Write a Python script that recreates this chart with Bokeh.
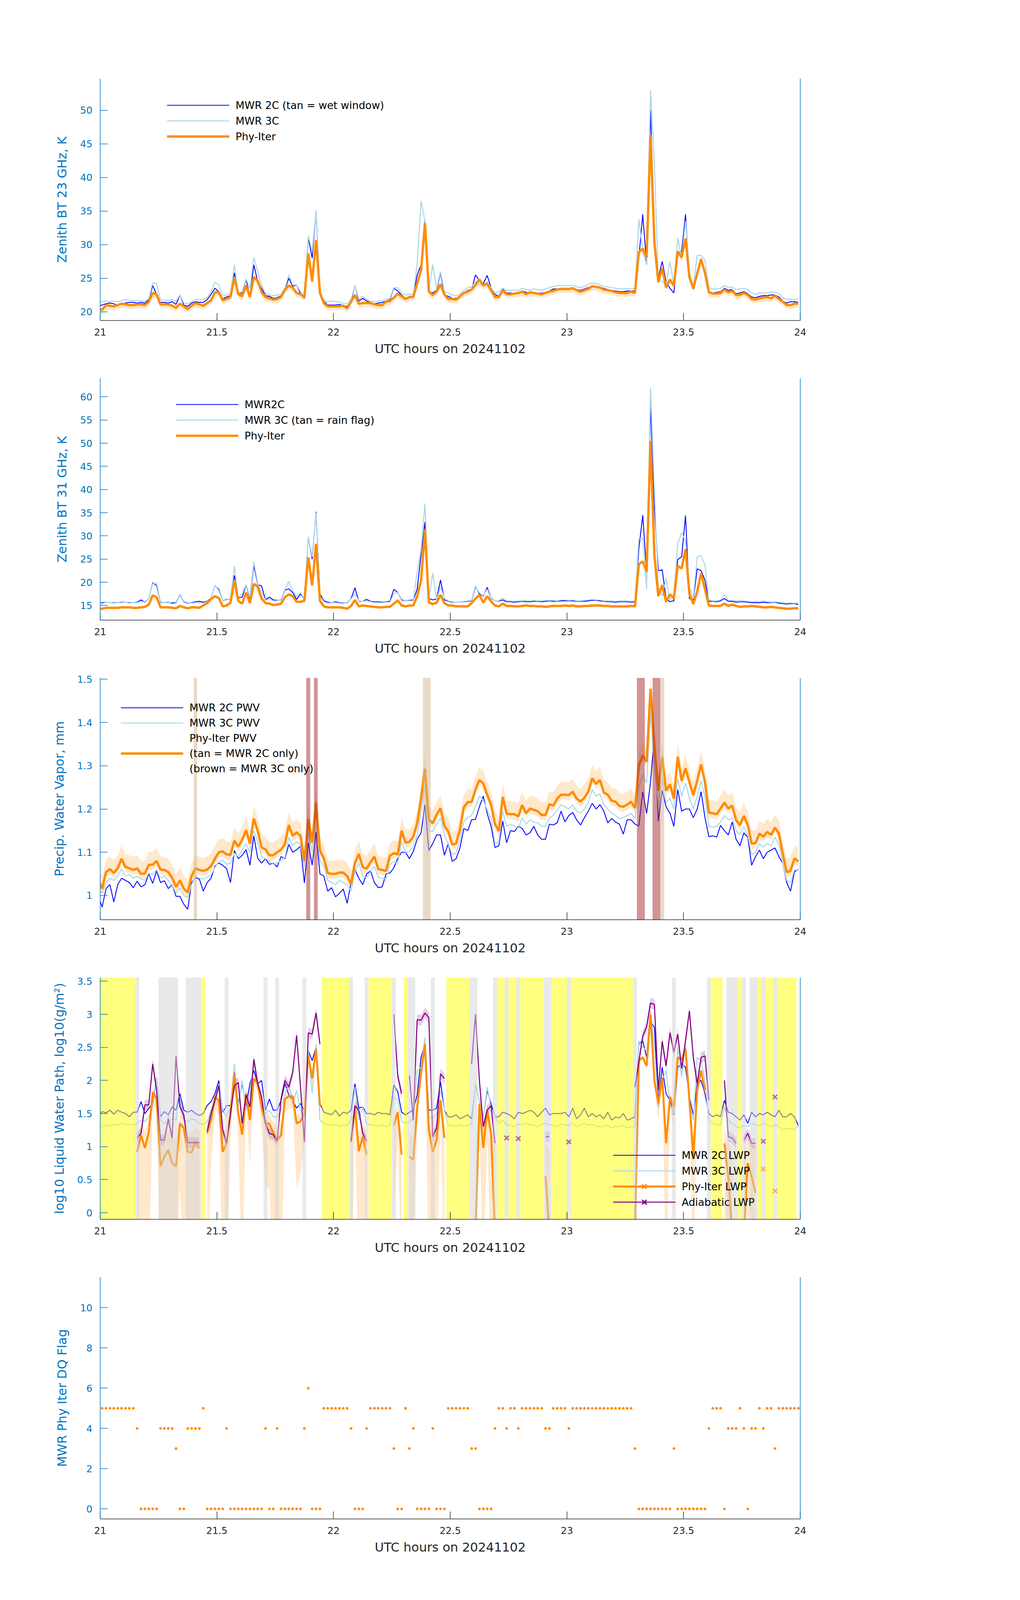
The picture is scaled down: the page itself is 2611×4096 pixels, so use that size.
import numpy as np
from bokeh.plotting import figure
from bokeh.layouts import column
from bokeh.models import (Range1d, FixedTicker, NumeralTickFormatter, LinearAxis,
                          Legend, LegendItem)
from bokeh.embed import file_html
from bokeh.resources import INLINE

nan = float("nan")

# ---------------- time axis (1-minute samples, centred on the half minute) ----------------
N = 181
MINUTE_INDEX = np.arange(N)
T_HOURS = 21.0 + (MINUTE_INDEX - 0.5) / 60.0

X_TICKS = [21, 21.5, 22, 22.5, 23, 23.5, 24]
X_LABEL = "UTC hours on 20241102"

# ---------------- panel 1 : 23 GHz brightness temperature ----------------
BT23_TICKS = [20, 25, 30, 35, 40, 45, 50]
BT23_MWR2C = [
    20.9, 21.0, 21.2, 21.3, 21.2, 20.9, 21.2, 21.3, 21.4, 21.4,
    21.3, 21.4, 21.3, 21.8, 23.9, 22.6, 21.4, 21.4, 21.3, 21.5,
    21.1, 22.5, 21.0, 20.8, 21.3, 21.5, 21.4, 21.4, 21.8, 22.6,
    23.5, 23.0, 21.9, 22.2, 22.4, 25.8, 22.6, 22.8, 24.8, 22.3,
    27.0, 24.5, 23.5, 22.4, 22.3, 22.0, 22.1, 22.4, 23.3, 25.0,
    23.8, 24.0, 22.7, 22.0, 31.0, 28.0, 35.0, 23.0, 21.6, 21.0,
    21.0, 21.0, 21.1, 20.9, 20.8, 21.6, 23.9, 21.6, 22.0, 21.6,
    21.4, 21.2, 21.3, 21.4, 21.6, 21.8, 23.5, 23.1, 22.5, 22.0,
    22.2, 22.3, 25.5, 27.0, 33.7, 23.0, 22.8, 23.2, 25.8, 22.5,
    22.3, 22.0, 22.0, 22.2, 22.8, 23.2, 23.3, 25.5, 24.6, 24.2,
    25.4, 23.6, 22.6, 22.3, 23.4, 22.8, 22.8, 22.7, 22.8, 23.1,
    22.9, 22.8, 22.9, 22.8, 22.8, 22.9, 23.1, 23.4, 23.4, 23.5,
    23.5, 23.4, 23.5, 23.3, 23.2, 23.4, 23.6, 23.8, 23.8, 23.6,
    23.5, 23.3, 23.2, 23.1, 23.0, 23.0, 23.1, 23.1, 23.1, 28.0,
    34.5, 27.0, 50.0, 31.0, 25.0, 27.5, 24.5, 23.5, 22.8, 28.5,
    29.0, 34.5, 25.0, 23.4, 25.5, 27.9, 25.8, 23.0, 22.8, 22.9,
    23.0, 23.5, 23.2, 23.3, 22.7, 22.8, 23.0, 22.7, 22.2, 22.1,
    22.3, 22.4, 22.4, 22.5, 22.5, 22.2, 21.6, 21.3, 21.5, 21.5,
    21.4]
BT23_MWR3C = [
    21.3, 21.5, 21.6, 21.5, 21.6, 21.5, 21.7, 21.8, 21.7, 21.6,
    21.7, 21.6, 21.6, 22.0, 24.3, 24.2, 21.8, 21.7, 21.7, 21.8,
    21.6, 22.5, 21.3, 21.2, 21.5, 21.8, 21.8, 21.8, 22.1, 23.0,
    24.4, 24.0, 22.4, 22.5, 22.7, 27.0, 22.9, 23.0, 24.9, 23.5,
    28.1, 26.0, 23.9, 22.8, 22.5, 22.4, 22.5, 22.6, 23.5, 25.5,
    24.0, 24.0, 23.0, 22.2, 31.3, 29.0, 35.0, 23.0, 21.8, 21.5,
    21.6, 21.5, 21.5, 21.2, 21.2, 21.9, 23.9, 21.9, 22.3, 21.8,
    21.6, 21.5, 21.6, 21.7, 21.9, 22.0, 23.6, 23.6, 22.8, 22.5,
    22.6, 22.6, 27.1, 36.5, 33.5, 23.2, 27.0, 23.5, 26.0, 23.0,
    22.8, 22.5, 22.4, 22.6, 23.2, 23.6, 23.7, 24.5, 24.0, 24.0,
    24.5, 23.6, 22.8, 23.0, 23.5, 23.2, 23.2, 23.2, 23.2, 23.5,
    23.3, 23.2, 23.4, 23.3, 23.2, 23.4, 23.6, 23.8, 23.9, 23.9,
    23.9, 23.9, 23.9, 23.7, 23.6, 23.8, 24.1, 24.3, 24.2, 24.0,
    23.8, 23.7, 23.6, 23.5, 23.4, 23.4, 23.5, 23.4, 23.5, 33.8,
    29.0, 27.0, 53.0, 42.0, 25.0, 24.5, 24.0, 27.5, 24.0, 31.0,
    28.0, 33.5, 26.0, 23.8, 28.4, 28.4, 27.7, 23.6, 23.4, 23.4,
    23.5, 23.9, 23.6, 23.7, 23.3, 23.4, 23.5, 23.3, 22.8, 22.6,
    22.8, 22.8, 22.8, 23.0, 22.9, 22.7, 22.1, 21.8, 21.9, 21.8,
    21.9]
BT23_PHY = [
    20.4, 20.3, 21.0, 20.9, 20.8, 21.0, 21.2, 21.1, 21.0, 21.0,
    21.1, 21.1, 21.0, 21.5, 22.8, 22.6, 21.1, 21.1, 21.1, 20.9,
    20.6, 21.2, 20.8, 20.4, 20.9, 21.3, 21.1, 20.9, 21.3, 21.7,
    22.9, 22.9, 21.7, 21.9, 22.2, 25.1, 22.6, 22.3, 23.9, 22.2,
    25.2, 24.6, 22.9, 22.2, 22.0, 21.8, 21.9, 22.2, 23.3, 23.9,
    23.6, 22.8, 22.6, 22.2, 28.7, 24.5, 30.7, 22.8, 21.3, 20.8,
    20.8, 20.8, 20.8, 20.9, 20.5, 21.5, 22.5, 21.2, 21.3, 21.3,
    21.3, 21.1, 21.0, 21.0, 21.5, 21.6, 22.1, 22.7, 22.3, 21.9,
    22.2, 22.2, 24.2, 26.2, 33.2, 23.0, 22.5, 23.0, 24.1, 22.6,
    21.9, 21.9, 21.8, 22.3, 22.8, 23.0, 23.3, 24.0, 24.8, 23.9,
    24.2, 23.2, 22.2, 22.2, 23.2, 22.6, 22.6, 22.7, 22.8, 23.0,
    22.6, 22.9, 22.8, 22.7, 22.6, 22.8, 23.0, 23.1, 23.3, 23.4,
    23.4, 23.4, 23.5, 23.2, 23.0, 23.2, 23.4, 23.8, 23.7, 23.6,
    23.3, 23.2, 23.1, 22.9, 22.8, 22.8, 22.8, 23.0, 22.8, 28.9,
    29.4, 28.1, 46.3, 30.3, 24.4, 26.5, 23.6, 24.8, 23.9, 29.0,
    28.1, 30.9, 25.1, 23.5, 25.7, 27.8, 25.8, 22.9, 22.7, 22.7,
    22.8, 23.3, 22.9, 23.1, 22.5, 22.5, 22.8, 22.5, 21.9, 21.8,
    22.0, 22.1, 22.2, 22.0, 22.4, 21.9, 21.5, 21.0, 21.0, 21.2,
    21.2]
BT23_PHY_UNC_BELOW = 0.6   # K
BT23_PHY_UNC_ABOVE = 0.2   # K

# ---------------- panel 2 : 31 GHz brightness temperature ----------------
BT31_TICKS = [15, 20, 25, 30, 35, 40, 45, 50, 55, 60]
BT31_MWR2C = [
    15.4, 15.6, 15.7, 15.6, 15.6, 15.6, 15.7, 15.7, 15.6, 15.6,
    15.7, 16.2, 15.7, 16.5, 19.9, 19.3, 15.7, 15.6, 15.7, 15.5,
    15.6, 17.3, 15.8, 15.5, 15.6, 15.8, 15.9, 15.7, 15.9, 16.6,
    19.3, 18.5, 16.0, 16.3, 16.3, 21.5, 16.6, 16.8, 19.4, 16.5,
    23.6, 19.5, 19.2, 16.2, 16.8, 16.2, 16.1, 16.2, 18.3, 18.6,
    17.8, 16.3, 17.5, 16.3, 29.8, 25.0, 35.2, 17.5, 16.0, 15.7,
    15.6, 15.8, 15.6, 15.5, 15.6, 16.5, 18.8, 15.9, 15.9, 16.3,
    15.9, 15.8, 15.8, 15.7, 15.8, 15.9, 18.5, 17.8, 16.2, 16.0,
    16.1, 16.2, 18.5, 26.0, 33.0, 16.5, 16.2, 16.4, 20.5, 16.2,
    15.9, 15.7, 15.7, 15.8, 15.8, 15.9, 16.0, 19.0, 17.5, 17.0,
    18.9, 16.5, 16.0, 15.9, 16.2, 15.8, 15.8, 15.7, 15.8, 15.9,
    15.8, 15.8, 15.9, 15.9, 15.8, 15.9, 16.0, 15.9, 15.9, 16.0,
    16.0, 16.0, 16.0, 15.9, 15.9, 15.9, 16.0, 16.1, 16.1, 16.0,
    15.9, 15.8, 15.8, 15.7, 15.8, 15.8, 15.8, 15.7, 15.8, 27.2,
    34.5, 22.0, 58.0, 36.0, 22.5, 22.7, 16.5, 15.8, 16.0, 24.9,
    25.5, 34.4, 16.5, 16.2, 22.9, 22.5, 20.5, 15.9, 15.9, 15.8,
    16.0, 16.5, 15.9, 15.9, 15.7, 15.8, 15.8, 15.7, 15.6, 15.6,
    15.6, 15.7, 15.6, 15.6, 15.7, 15.5, 15.4, 15.3, 15.4, 15.4,
    15.2]
BT31_MWR3C = [
    15.5, 15.4, 15.7, 15.6, 15.5, 15.6, 15.6, 15.7, 15.7, 15.6,
    15.6, 15.8, 15.8, 16.5, 19.7, 19.8, 15.8, 15.6, 15.6, 15.7,
    15.7, 17.4, 15.9, 15.6, 15.5, 15.6, 15.6, 15.5, 15.8, 16.5,
    19.4, 18.2, 16.0, 16.2, 16.4, 23.5, 16.8, 17.5, 19.5, 16.8,
    24.4, 19.8, 17.8, 16.1, 16.4, 16.0, 16.0, 16.3, 18.5, 20.2,
    18.2, 16.8, 17.8, 16.3, 29.8, 25.5, 35.0, 17.0, 15.8, 15.5,
    15.6, 15.6, 15.5, 15.4, 15.7, 16.4, 17.5, 16.0, 15.9, 16.0,
    15.8, 15.6, 15.6, 15.6, 15.7, 15.7, 17.5, 17.8, 16.0, 16.0,
    16.0, 16.0, 22.3, 27.0, 37.0, 16.5, 22.0, 16.3, 19.0, 16.5,
    16.0, 15.8, 15.7, 15.8, 15.9, 16.0, 16.1, 19.3, 17.0, 17.2,
    18.5, 16.4, 16.0, 16.0, 16.6, 16.0, 16.0, 15.9, 16.0, 16.0,
    16.1, 16.0, 16.1, 16.0, 16.0, 16.1, 16.1, 16.1, 16.0, 16.2,
    16.2, 16.1, 16.2, 16.0, 16.0, 16.1, 16.2, 16.3, 16.2, 16.2,
    16.0, 16.0, 16.0, 15.9, 16.0, 16.0, 16.0, 15.9, 16.0, 29.5,
    29.5, 18.5, 62.0, 40.0, 19.0, 17.0, 20.9, 16.0, 17.5, 28.3,
    30.7, 29.0, 19.0, 16.5, 25.5, 25.8, 23.7, 16.2, 16.0, 16.0,
    16.2, 17.4, 16.1, 16.1, 16.0, 16.1, 16.0, 15.9, 15.8, 15.9,
    15.8, 16.0, 15.8, 15.7, 15.8, 15.7, 15.6, 15.5, 15.6, 15.5,
    15.6]
BT31_PHY = [
    14.3, 14.3, 14.5, 14.5, 14.5, 14.5, 14.6, 14.6, 14.6, 14.5,
    14.5, 14.6, 14.7, 15.2, 17.2, 16.8, 14.6, 14.6, 14.6, 14.5,
    14.4, 14.9, 14.6, 14.4, 14.6, 14.6, 14.5, 15.0, 15.5, 16.4,
    17.0, 16.6, 14.8, 15.0, 15.6, 20.4, 16.0, 15.4, 17.8, 15.5,
    19.7, 19.0, 16.5, 15.5, 15.4, 15.1, 15.2, 15.4, 16.8, 17.4,
    17.0, 15.8, 15.8, 16.0, 25.4, 19.3, 28.3, 16.0, 14.8, 14.6,
    14.6, 14.6, 14.6, 14.5, 14.3, 14.9, 16.2, 14.8, 15.0, 14.9,
    14.8, 14.7, 14.6, 14.6, 14.7, 14.7, 15.4, 16.1, 15.0, 14.8,
    15.0, 15.0, 17.0, 20.4, 31.3, 15.7, 15.3, 15.6, 17.3, 15.5,
    15.0, 15.0, 14.8, 14.8, 14.8, 14.8, 15.5, 16.5, 17.3, 15.6,
    17.0, 15.9, 15.0, 14.8, 15.4, 14.9, 14.9, 14.8, 14.8, 14.9,
    15.0, 14.9, 14.9, 14.8, 14.8, 14.7, 14.8, 14.9, 14.9, 14.9,
    15.0, 14.9, 15.0, 14.8, 14.8, 14.9, 14.9, 15.0, 15.0, 15.0,
    14.9, 14.9, 14.8, 14.8, 14.8, 14.8, 14.8, 14.9, 14.8, 23.9,
    24.5, 22.3, 50.5, 25.7, 17.0, 19.4, 15.8, 17.4, 16.5, 23.5,
    23.0, 27.2, 17.5, 15.3, 18.0, 21.9, 18.5, 15.0, 14.9, 14.9,
    14.9, 15.4, 14.9, 15.2, 14.9, 14.7, 14.8, 14.8, 14.9, 14.8,
    14.7, 14.6, 14.6, 14.7, 14.6, 14.5, 14.4, 14.3, 14.3, 14.4,
    14.4]
BT31_PHY_UNC_BELOW = 0.3
BT31_PHY_UNC_ABOVE = 0.1

# ---------------- panel 3 : precipitable water vapour ----------------
PWV_TICKS = [1.0, 1.1, 1.2, 1.3, 1.4, 1.5]
PWV_MWR2C = [
    1.000, 0.973, 1.016, 1.025, 0.985, 1.025, 1.040, 1.035, 1.030, 1.018,
    1.033, 1.020, 1.025, 1.050, 1.028, 1.057, 1.030, 1.034, 1.016, 1.025,
    0.998, 0.998, 0.980, 0.968, 1.030, 1.041, 1.038, 1.010, 1.030, 1.040,
    1.068, 1.075, 1.070, 1.062, 1.030, 1.104, 1.085, 1.093, 1.106, 1.070,
    1.138, 1.086, 1.075, 1.085, 1.072, 1.075, 1.066, 1.090, 1.085, 1.118,
    1.100, 1.106, 1.114, 1.029, 1.122, 1.070, 1.147, 1.050, 1.045, 1.010,
    1.018, 0.997, 1.005, 1.015, 0.982, 1.030, 1.060, 1.040, 1.025, 1.050,
    1.057, 1.030, 1.018, 1.020, 1.050, 1.052, 1.064, 1.086, 1.100, 1.100,
    1.085, 1.102, 1.130, 1.145, 1.210, 1.104, 1.120, 1.140, 1.140, 1.093,
    1.120, 1.079, 1.085, 1.110, 1.155, 1.150, 1.175, 1.176, 1.205, 1.230,
    1.190, 1.160, 1.111, 1.115, 1.172, 1.122, 1.150, 1.148, 1.160, 1.155,
    1.140, 1.145, 1.160, 1.140, 1.130, 1.130, 1.165, 1.163, 1.168, 1.195,
    1.170, 1.185, 1.192, 1.175, 1.163, 1.180, 1.195, 1.213, 1.200, 1.210,
    1.195, 1.168, 1.178, 1.170, 1.165, 1.142, 1.175, 1.175, 1.165, 1.161,
    1.240, 1.190, 1.262, 1.370, 1.172, 1.243, 1.205, 1.190, 1.160, 1.245,
    1.195, 1.200, 1.200, 1.180, 1.200, 1.240, 1.180, 1.136, 1.138, 1.135,
    1.162, 1.150, 1.140, 1.170, 1.130, 1.115, 1.145, 1.135, 1.070, 1.090,
    1.105, 1.085, 1.100, 1.105, 1.110, 1.090, 1.075, 1.030, 1.010, 1.055,
    1.060]
PWV_MWR3C = [
    1.015, 1.005, 1.030, 1.040, 1.035, 1.045, 1.062, 1.045, 1.048, 1.040,
    1.045, 1.038, 1.035, 1.052, 1.048, 1.060, 1.040, 1.045, 1.035, 1.025,
    1.005, 1.018, 1.000, 0.995, 1.025, 1.045, 1.040, 1.038, 1.042, 1.048,
    1.065, 1.078, 1.082, 1.072, 1.075, 1.098, 1.090, 1.105, 1.120, 1.100,
    1.150, 1.125, 1.090, 1.085, 1.080, 1.072, 1.075, 1.082, 1.088, 1.135,
    1.115, 1.125, 1.118, 1.065, 1.150, 1.100, 1.195, 1.082, 1.068, 1.035,
    1.030, 1.025, 1.035, 1.030, 1.025, 1.010, 1.055, 1.075, 1.045, 1.042,
    1.055, 1.068, 1.042, 1.040, 1.038, 1.072, 1.078, 1.075, 1.125, 1.100,
    1.102, 1.115, 1.140, 1.195, 1.255, 1.150, 1.148, 1.165, 1.180, 1.140,
    1.120, 1.095, 1.098, 1.128, 1.170, 1.180, 1.185, 1.205, 1.230, 1.220,
    1.198, 1.180, 1.120, 1.125, 1.195, 1.160, 1.165, 1.160, 1.155, 1.180,
    1.165, 1.175, 1.170, 1.168, 1.160, 1.160, 1.180, 1.185, 1.198, 1.210,
    1.205, 1.200, 1.210, 1.195, 1.190, 1.200, 1.215, 1.245, 1.230, 1.235,
    1.210, 1.200, 1.190, 1.185, 1.178, 1.180, 1.185, 1.190, 1.178, 1.250,
    1.280, 1.260, 1.420, 1.300, 1.210, 1.270, 1.215, 1.225, 1.200, 1.270,
    1.230, 1.260, 1.225, 1.200, 1.230, 1.265, 1.230, 1.160, 1.158, 1.160,
    1.170, 1.185, 1.175, 1.180, 1.150, 1.140, 1.160, 1.140, 1.095, 1.100,
    1.120, 1.112, 1.120, 1.115, 1.135, 1.118, 1.075, 1.035, 1.030, 1.060,
    1.058]
PWV_PHY = [
    1.035, 1.016, 1.054, 1.061, 1.052, 1.063, 1.085, 1.066, 1.063, 1.059,
    1.063, 1.050, 1.051, 1.071, 1.071, 1.080, 1.060, 1.059, 1.054, 1.041,
    1.020, 1.035, 1.016, 1.007, 1.045, 1.063, 1.059, 1.057, 1.060, 1.068,
    1.085, 1.100, 1.102, 1.095, 1.094, 1.127, 1.113, 1.129, 1.151, 1.120,
    1.178, 1.149, 1.111, 1.107, 1.093, 1.093, 1.100, 1.106, 1.119, 1.163,
    1.138, 1.146, 1.138, 1.079, 1.176, 1.122, 1.215, 1.104, 1.086, 1.052,
    1.050, 1.050, 1.053, 1.053, 1.045, 1.027, 1.075, 1.096, 1.066, 1.062,
    1.077, 1.090, 1.061, 1.059, 1.057, 1.092, 1.098, 1.095, 1.150, 1.122,
    1.124, 1.136, 1.167, 1.224, 1.293, 1.176, 1.167, 1.187, 1.202, 1.161,
    1.148, 1.118, 1.120, 1.152, 1.204, 1.216, 1.216, 1.245, 1.267, 1.259,
    1.233, 1.210, 1.165, 1.149, 1.228, 1.189, 1.188, 1.188, 1.183, 1.209,
    1.190, 1.201, 1.198, 1.195, 1.186, 1.186, 1.211, 1.208, 1.224, 1.233,
    1.233, 1.232, 1.240, 1.224, 1.217, 1.226, 1.240, 1.271, 1.258, 1.267,
    1.238, 1.233, 1.219, 1.217, 1.207, 1.205, 1.210, 1.217, 1.202, 1.301,
    1.324, 1.309, 1.478, 1.345, 1.242, 1.320, 1.242, 1.257, 1.224, 1.321,
    1.265, 1.294, 1.262, 1.232, 1.265, 1.303, 1.262, 1.192, 1.190, 1.188,
    1.201, 1.215, 1.201, 1.208, 1.174, 1.163, 1.184, 1.163, 1.120, 1.121,
    1.143, 1.136, 1.147, 1.140, 1.157, 1.143, 1.097, 1.054, 1.057, 1.086,
    1.079]
PWV_PHY_UNC_BELOW = 0.012
PWV_PHY_UNC_ABOVE = 0.03
# flagged intervals (hours): tan = MWR 2C only, brown = MWR 3C only
PWV_TAN_START = [21.401, 22.383, 23.400]
PWV_TAN_END = [21.415, 22.416, 23.417]
PWV_BROWN_START = [21.883, 21.916, 23.300, 23.367]
PWV_BROWN_END = [21.900, 21.932, 23.334, 23.400]

# ---------------- panel 4 : log10 liquid water path ----------------
LWP_TICKS = [0, 0.5, 1, 1.5, 2, 2.5, 3, 3.5]
LWP_MWR2C = [
    1.44, 1.53, 1.51, 1.55, 1.49, 1.55, 1.52, 1.50, 1.45, 1.52,
    1.52, 1.68, 1.50, 1.58, 1.65, 2.05, 1.45, 1.53, 1.48, 1.60,
    1.55, 1.80, 1.55, 1.52, 1.55, 1.50, 1.47, 1.50, 1.62, 1.68,
    1.80, 2.00, 1.52, 1.62, 1.62, 2.12, 1.65, 1.95, 1.62, 1.95,
    2.15, 1.95, 2.00, 1.55, 1.72, 1.55, 1.55, 1.70, 1.95, 1.78,
    1.70, 1.58, 1.65, 1.55, 2.45, 2.30, 2.50, 1.65, 1.52, 1.50,
    1.48, 1.55, 1.46, 1.52, 1.50, 1.55, 1.95, 1.58, 1.60, 1.50,
    1.50, 1.48, 1.52, 1.50, 1.50, 1.48, 1.93, 1.83, 1.52, 1.48,
    1.52, 1.55, 1.78, 2.35, 2.55, 1.55, 1.55, 1.58, 1.98, 1.55,
    1.45, 1.45, 1.48, 1.42, 1.45, 1.48, 1.42, 1.93, 1.70, 1.45,
    1.85, 1.65, 1.45, 1.45, 1.52, 1.50, 1.47, 1.42, 1.52, 1.50,
    1.52, 1.55, 1.52, 1.45, 1.52, 1.58, 1.48, 1.50, 1.50, 1.50,
    1.52, 1.45, 1.58, 1.42, 1.48, 1.58, 1.45, 1.50, 1.45, 1.48,
    1.42, 1.52, 1.40, 1.45, 1.43, 1.50, 1.40, 1.42, 1.45, 2.55,
    2.60, 2.35, 2.90, 2.80, 1.70, 2.20, 1.80, 1.70, 1.48, 2.20,
    2.25, 2.20, 1.75, 1.48, 1.95, 2.00, 1.80, 1.50, 1.45, 1.48,
    1.45, 1.70, 1.52, 1.50, 1.45, 1.40, 1.48, 1.35, 1.52, 1.45,
    1.50, 1.48, 1.52, 1.48, 1.45, 1.55, 1.45, 1.45, 1.50, 1.45,
    1.32]
LWP_MWR3C = [
    1.28, 1.30, 1.33, 1.31, 1.34, 1.32, 1.35, 1.33, 1.34, 1.32,
    1.35, 1.40, 1.38, 1.45, 1.60, 2.05, 1.40, 1.35, 1.38, 1.42,
    1.40, 1.75, 1.40, 1.38, 1.42, 1.40, 1.35, 1.33, 1.38, 1.55,
    1.70, 1.95, 1.55, 1.45, 1.60, 2.25, 1.60, 2.00, 1.55, 1.80,
    2.30, 1.95, 1.60, 1.50, 1.55, 1.45, 1.45, 1.55, 1.80, 1.95,
    1.65, 1.85, 1.55, 1.45, 2.45, 1.80, 2.55, 1.40, 1.35, 1.33,
    1.32, 1.34, 1.30, 1.33, 1.32, 1.40, 1.90, 1.40, 1.60, 1.35,
    1.33, 1.32, 1.31, 1.33, 1.30, 1.33, 1.75, 1.70, 1.38, 1.35,
    1.38, 1.42, 2.15, 2.20, 2.65, 1.45, 1.42, 1.50, 1.85, 1.55,
    1.32, 1.33, 1.30, 1.33, 1.31, 1.32, 1.34, 1.95, 1.70, 1.45,
    1.90, 1.60, 1.45, 1.35, 1.40, 1.33, 1.32, 1.30, 1.34, 1.33,
    1.35, 1.33, 1.32, 1.30, 1.34, 1.35, 1.33, 1.32, 1.30, 1.34,
    1.33, 1.32, 1.36, 1.30, 1.33, 1.35, 1.32, 1.34, 1.31, 1.30,
    1.30, 1.33, 1.28, 1.31, 1.30, 1.32, 1.28, 1.30, 1.30, 2.60,
    2.50, 2.45, 3.05, 2.50, 1.60, 2.00, 2.15, 1.65, 1.50, 2.50,
    2.05, 2.50, 1.70, 1.40, 2.35, 2.30, 2.00, 1.40, 1.35, 1.33,
    1.32, 1.60, 1.40, 1.35, 1.30, 1.28, 1.32, 1.30, 1.35, 1.33,
    1.32, 1.35, 1.33, 1.30, 1.33, 1.30, 1.25, 1.27, 1.28, 1.25,
    1.32]
LWP_PHY = [
    nan, nan, nan, nan, nan, nan, nan, nan, nan, nan,
    0.92, 1.17, 0.98, 1.22, 1.82, 1.73, 0.70, 0.85, 0.95, 0.75,
    0.70, 1.35, 1.28, 0.92, 0.91, 1.08, 0.97, nan, 1.20, 1.40,
    1.75, 1.70, 0.92, 1.05, 1.50, 2.10, 1.50, 1.18, 1.80, 1.40,
    2.03, 1.95, 1.60, 1.35, 1.35, 1.20, 1.10, 1.17, 1.72, 1.76,
    1.76, 1.35, 1.38, 1.50, 2.38, 2.03, 2.48, 1.62, nan, nan,
    nan, nan, nan, nan, nan, 1.07, 1.60, 0.93, 1.15, 0.88,
    nan, nan, nan, nan, nan, nan, 1.32, 1.52, 0.88, nan,
    0.85, 0.80, 1.60, 2.10, 2.55, 1.25, 0.92, 1.10, 1.70, 1.13,
    nan, nan, nan, nan, nan, nan, nan, -0.30, 1.65, 0.98,
    1.55, 1.20, -0.30, nan, nan, nan, nan, nan, nan, nan,
    nan, nan, nan, nan, nan, 0.55, -0.30, nan, nan, nan,
    nan, nan, nan, nan, nan, nan, nan, nan, nan, nan,
    nan, nan, nan, nan, nan, nan, nan, nan, -0.30, 2.30,
    2.35, 2.22, 3.00, 2.00, 1.65, 2.05, 1.05, 1.75, 1.60, 2.35,
    2.32, 2.48, 1.70, 0.85, 1.85, 2.15, 1.85, nan, nan, nan,
    nan, 1.05, 0.55, -0.30, nan, nan, -0.30, 0.75, 0.55, 0.30,
    nan, 0.66, nan, nan, 0.33, nan, nan, nan, nan, nan,
    nan]
LWP_ADIABATIC = [
    nan, nan, nan, nan, nan, nan, nan, nan, nan, nan,
    1.13, 1.20, 1.63, 1.63, 2.25, 1.85, 1.10, 1.10, 1.42, 1.13,
    2.37, 1.60, 1.48, 1.06, 1.06, 1.06, 1.06, nan, 1.23, 1.50,
    1.70, 1.92, 1.25, 1.05, 1.50, 1.92, 1.97, 1.35, 1.78, 1.60,
    2.32, 1.95, 1.75, 1.35, 1.20, 1.18, 1.08, 1.72, 2.00, 1.90,
    2.12, 2.68, 1.90, 1.07, 2.72, 2.70, 3.02, 2.55, nan, nan,
    nan, nan, nan, nan, nan, 1.08, 1.62, 1.55, 1.20, 1.08,
    nan, nan, nan, nan, nan, nan, 3.00, 2.07, 1.80, nan,
    2.07, 1.40, 2.92, 2.91, 3.02, 2.95, 1.15, 1.28, 2.10, 2.03,
    nan, nan, nan, nan, nan, nan, 2.25, 3.00, 2.00, 1.30,
    1.55, 1.62, 1.05, nan, nan, 1.13, nan, nan, 1.12, nan,
    nan, nan, nan, nan, nan, 1.15, 1.15, nan, nan, nan,
    nan, 1.07, nan, nan, nan, nan, nan, nan, nan, nan,
    nan, nan, nan, nan, nan, nan, nan, nan, 1.90, 2.28,
    2.67, 2.81, 3.17, 3.15, 1.85, 2.59, 2.22, 2.72, 2.43, 2.70,
    2.18, 2.60, 3.05, 2.35, 1.95, 2.35, 2.37, 1.70, nan, nan,
    nan, 2.00, 1.15, 1.13, 1.05, nan, 1.10, 1.20, 1.05, 1.05,
    nan, 1.08, nan, nan, 1.75, nan, nan, nan, nan, nan,
    nan]
PHY_LWP_UNC_BELOW_GM2 = 20.0   # g/m^2
PHY_LWP_UNC_ABOVE_GM2 = 8.0    # g/m^2
ADIAB_LWP_UNC_LOG = 0.08
# shaded intervals (minutes after 21 UTC)
LWP_YELLOW_START = [0, 26, 57, 69, 78, 89, 102, 105, 108, 116, 121, 157, 164, 169, 171, 174]
LWP_YELLOW_END = [9, 27, 64, 75, 79, 95, 104, 107, 114, 120, 137, 160, 165, 170, 173, 179]
LWP_GRAY_START = [9, 15, 22, 32, 42, 45, 52, 64, 68, 75, 79, 85, 95, 101, 104, 107, 114, 120,
                  137, 147, 156, 161, 165, 167, 170, 173]
LWP_GRAY_END = [10, 20, 26, 33, 43, 46, 53, 65, 69, 76, 81, 86, 97, 102, 105, 108, 116, 121,
                138, 148, 157, 164, 166, 169, 171, 174]

# ---------------- panel 5 : DQ flag ----------------
DQ_TICKS = [0, 2, 4, 6, 8, 10]
DQ_FLAG = [
    nan, 5, 5, 5, 5, 5, 5, 5, 5, 5,
    4, 0, 0, 0, 0, 0, 4, 4, 4, 4,
    3, 0, 0, 4, 4, 4, 4, 5, 0, 0,
    0, 0, 0, 4, 0, 0, 0, 0, 0, 0,
    0, 0, 0, 4, 0, 0, 4, 0, 0, 0,
    0, 0, 0, 4, 6, 0, 0, 0, 5, 5,
    5, 5, 5, 5, 5, 4, 0, 0, 0, 4,
    5, 5, 5, 5, 5, 5, 3, 0, 0, 5,
    3, 4, 0, 0, 0, 0, 4, 0, 0, 0,
    5, 5, 5, 5, 5, 5, 3, 3, 0, 0,
    0, 0, 4, 5, 5, 4, 5, 5, 4, 5,
    5, 5, 5, 5, 5, 4, 4, 5, 5, 5,
    5, 4, 5, 5, 5, 5, 5, 5, 5, 5,
    5, 5, 5, 5, 5, 5, 5, 5, 3, 0,
    0, 0, 0, 0, 0, 0, 0, 0, 3, 0,
    0, 0, 0, 0, 0, 0, 0, 4, 5, 5,
    5, 0, 4, 4, 4, 5, 4, 0, 4, 4,
    5, 4, 5, 5, 3, 5, 5, 5, 5, 5,
    5]

# ---------------- styling ----------------
BLUE = "#0000FF"
LIGHTBLUE = "#ADD8E6"
ORANGE = "#FF8C00"
PURPLE = "#800080"
AX_BLUE = "#0072BD"
AX_DARK = "#262626"
FONT = "DejaVu Sans"
FW, FH = 1792, 619
W_2C, W_3C = 2.2, 2.7


def fit(a):
    a = list(a)
    return np.array((a + [nan] * N)[:N], dtype=float)


def make_fig(yr, yticks, ylabel, top_border):
    p = figure(frame_width=FW, frame_height=FH, x_range=Range1d(21, 24),
               y_range=Range1d(*yr), output_backend="svg", toolbar_location=None,
               title=None, min_border_left=256, min_border_right=120,
               min_border_top=top_border, min_border_bottom=132)
    p.outline_line_color = None
    p.grid.visible = False
    p.background_fill_color = "white"
    p.border_fill_color = "white"
    xa = p.xaxis[0]
    xa.ticker = FixedTicker(ticks=X_TICKS)
    xa.formatter = NumeralTickFormatter(format="0.[0]")
    xa.axis_label = X_LABEL
    ya = p.yaxis[0]
    ya.ticker = FixedTicker(ticks=yticks)
    ya.formatter = NumeralTickFormatter(format="0.[0]")
    ya.axis_label = ylabel
    for ax, col, lstand in ((xa, AX_DARK, 12), (ya, AX_BLUE, 24)):
        ax.axis_line_color = col
        ax.axis_line_width = 1.5
        ax.major_tick_line_color = col
        ax.major_tick_line_width = 1.5
        ax.major_tick_in = 19
        ax.major_tick_out = 0
        ax.minor_tick_line_color = None
        ax.major_label_text_font = FONT
        ax.major_label_text_font_size = "24.5px"
        ax.major_label_text_color = col
        ax.major_label_standoff = 20
        ax.axis_label_text_font = FONT
        ax.axis_label_text_font_size = "32px"
        ax.axis_label_text_font_style = "normal"
        ax.axis_label_text_color = col
        ax.axis_label_standoff = lstand
    right = LinearAxis(ticker=FixedTicker(ticks=[]), axis_line_color=AX_BLUE,
                       axis_line_width=1.5, major_tick_line_color=None,
                       minor_tick_line_color=None, major_label_text_font_size="0px")
    p.add_layout(right, "right")
    return p


def make_legend(items, loc, row_h):
    return Legend(items=items, location=loc, orientation="vertical",
                  glyph_width=160, glyph_height=row_h, label_height=row_h,
                  label_standoff=16, spacing=0, padding=0, margin=0,
                  border_line_alpha=0, background_fill_alpha=0,
                  label_text_font=FONT, label_text_font_size="26.5px",
                  label_text_color="black")


T = T_HOURS

# ---------- panel 1 ----------
p1 = make_fig((18.7, 54.7), BT23_TICKS, "Zenith BT 23 GHz, K", 201)
phy = fit(BT23_PHY)
r1a = p1.line(T, fit(BT23_MWR2C), line_color=BLUE, line_width=W_2C)
r1b = p1.line(T, fit(BT23_MWR3C), line_color=LIGHTBLUE, line_width=W_3C)
p1.varea(x=T, y1=phy - BT23_PHY_UNC_BELOW, y2=phy + BT23_PHY_UNC_ABOVE,
         fill_color=ORANGE, fill_alpha=0.2)
r1c = p1.line(T, phy, line_color=ORANGE, line_width=6)
p1.add_layout(make_legend([LegendItem(label="MWR 2C (tan = wet window)", renderers=[r1a]),
                           LegendItem(label="MWR 3C", renderers=[r1b]),
                           LegendItem(label="Phy-Iter", renderers=[r1c])], (171, 451), 40))

# ---------- panel 2 ----------
p2 = make_fig((11.84, 64.0), BT31_TICKS, "Zenith BT 31 GHz, K", 16)
phy = fit(BT31_PHY)
r2a = p2.line(T, fit(BT31_MWR2C), line_color=BLUE, line_width=W_2C)
r2b = p2.line(T, fit(BT31_MWR3C), line_color=LIGHTBLUE, line_width=W_3C)
p2.varea(x=T, y1=phy - BT31_PHY_UNC_BELOW, y2=phy + BT31_PHY_UNC_ABOVE,
         fill_color=ORANGE, fill_alpha=0.2)
r2c = p2.line(T, phy, line_color=ORANGE, line_width=6)
p2.add_layout(make_legend([LegendItem(label="MWR2C", renderers=[r2a]),
                           LegendItem(label="MWR 3C (tan = rain flag)", renderers=[r2b]),
                           LegendItem(label="Phy-Iter", renderers=[r2c])], (194, 452), 40))

# ---------- panel 3 ----------
p3 = make_fig((0.944, 1.503), PWV_TICKS, "Precip. Water Vapor, mm", 16)
phy = fit(PWV_PHY)
r3a = p3.line(T, fit(PWV_MWR2C), line_color=BLUE, line_width=W_2C)
r3b = p3.line(T, fit(PWV_MWR3C), line_color=LIGHTBLUE, line_width=W_3C)
p3.varea(x=T, y1=phy - PWV_PHY_UNC_BELOW, y2=phy + PWV_PHY_UNC_ABOVE,
         fill_color=ORANGE, fill_alpha=0.2)
r3c = p3.line(T, phy, line_color=ORANGE, line_width=6)
p3.quad(left=PWV_TAN_START, right=PWV_TAN_END, bottom=0.0, top=2.0,
        fill_color="#D2B48C", fill_alpha=0.5, line_alpha=0)
p3.quad(left=PWV_BROWN_START, right=PWV_BROWN_END, bottom=0.0, top=2.0,
        fill_color="#A52A2A", fill_alpha=0.5, line_alpha=0)
blank = p3.line([21.0], [nan], line_alpha=0)
p3.add_layout(make_legend([LegendItem(label="MWR 2C PWV", renderers=[r3a]),
                           LegendItem(label="MWR 3C PWV", renderers=[r3b]),
                           LegendItem(label="Phy-Iter PWV", renderers=[blank]),
                           LegendItem(label="(tan = MWR 2C only)", renderers=[r3c]),
                           LegendItem(label="(brown = MWR 3C only)", renderers=[blank])],
                          (53, 367), 39))

# ---------- panel 4 ----------
p4 = make_fig((-0.10, 3.556), LWP_TICKS, "log10 Liquid Water Path, log10(g/m\u00b2)", 16)


def runs(vals):
    out, cur = [], []
    for i, v in enumerate(vals):
        if np.isnan(v):
            if cur:
                out.append(cur)
                cur = []
        else:
            cur.append(i)
    if cur:
        out.append(cur)
    return out


phy = fit(LWP_PHY)
adi = fit(LWP_ADIABATIC)
lin = 10.0 ** phy
phy_lo = np.log10(np.clip(lin - PHY_LWP_UNC_BELOW_GM2, 0.1, None))
phy_hi = np.log10(lin + PHY_LWP_UNC_ABOVE_GM2)
adi_lo = adi - ADIAB_LWP_UNC_LOG
adi_hi = adi + ADIAB_LWP_UNC_LOG


def band_polys(lo, hi, vals):
    xs, ys = [], []
    for r in runs(vals):
        if len(r) < 2:
            continue
        r = np.array(r)
        xs.append(list(T[r]) + list(T[r][::-1]))
        ys.append(list(hi[r]) + list(lo[r][::-1]))
    return xs, ys


def isolated(vals):
    idx = [r[0] for r in runs(vals) if len(r) == 1]
    return T[idx], vals[idx]


r4a = p4.line(T, fit(LWP_MWR2C), line_color=BLUE, line_width=W_2C)
r4b = p4.line(T, fit(LWP_MWR3C), line_color=LIGHTBLUE, line_width=W_3C)
bx, by = band_polys(phy_lo, phy_hi, phy)
p4.patches(bx, by, fill_color=ORANGE, fill_alpha=0.2, line_alpha=0)
bx, by = band_polys(adi_lo, adi_hi, adi)
p4.patches(bx, by, fill_color=PURPLE, fill_alpha=0.2, line_alpha=0)
r4c = p4.line(T, phy, line_color=ORANGE, line_width=5)
r4d = p4.line(T, adi, line_color=PURPLE, line_width=2.7)
ix, iy = isolated(adi)
r4dm = p4.scatter(ix, iy, marker="x", size=16, line_color=PURPLE, line_width=3.5)
ix, iy = isolated(phy)
r4cm = p4.scatter(ix, iy, marker="x", size=16, line_color=ORANGE, line_width=3.5)
hrs = lambda m: [21.0 + v / 60.0 for v in m]
p4.quad(left=hrs(LWP_YELLOW_START), right=hrs(LWP_YELLOW_END), bottom=-1.0, top=5.0,
        fill_color="#FFFF00", fill_alpha=0.5, line_alpha=0)
p4.quad(left=hrs(LWP_GRAY_START), right=hrs(LWP_GRAY_END), bottom=-1.0, top=5.0,
        fill_color="#D3D3D3", fill_alpha=0.5, line_alpha=0)
p4.add_layout(make_legend([LegendItem(label="MWR 2C LWP", renderers=[r4a]),
                           LegendItem(label="MWR 3C LWP", renderers=[r4b]),
                           LegendItem(label="Phy-Iter LWP", renderers=[r4c, r4cm]),
                           LegendItem(label="Adiabatic LWP", renderers=[r4d, r4dm])],
                          (1313, 24), 40))

# ---------- panel 5 ----------
p5 = make_fig((-0.5, 11.52), DQ_TICKS, "MWR Phy Iter DQ Flag", 16)
p5.scatter(T, fit(DQ_FLAG), marker="circle", size=6, fill_color=ORANGE, line_color=ORANGE)

layout = column(p1, p2, p3, p4, p5, spacing=0)
open("out.html", "w").write(file_html(layout, INLINE))
